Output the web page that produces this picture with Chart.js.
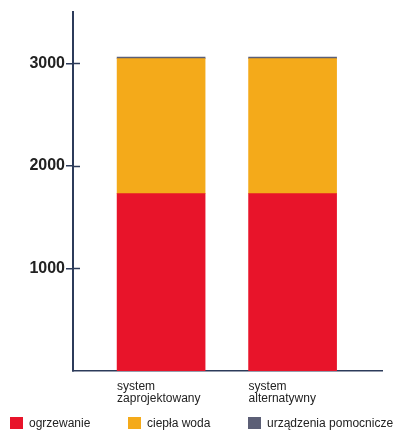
<!DOCTYPE html>
<html>
<head>
<meta charset="utf-8">
<script src="https://cdn.jsdelivr.net/npm/chart.js@4/dist/chart.umd.min.js"></script>
<style>
  html, body { margin: 0; padding: 0; background: #fff; }
  #wrap { position: relative; width: 393px; height: 432px; }
  #c { position: absolute; left: 0; top: 0; }
  #legend { position: absolute; left: 0; top: 416px; width: 393px; height: 16px;
            font-family: "Liberation Sans", Arial, sans-serif; font-size: 12px; color: #222; }
  .item { position: absolute; top: 0; display: flex; align-items: center; white-space: nowrap; }
  .sw { width: 13px; height: 12px; margin-right: 6px; }
</style>
</head>
<body>
<div id="wrap">
  <canvas id="c" width="393" height="432"></canvas>
  <div id="legend"></div>
</div>
<script>
// ---- data ----
const categories = [["system", "zaprojektowany"], ["system", "alternatywny"]];
const seriesNames = ["ogrzewanie", "ciepła woda", "urządzenia pomocnicze"];
const ogrzewanie = [1730, 1730];
const cieplaWoda = [1315, 1315];
const urzadzeniaPomocnicze = [15, 15];
const yTicks = [1000, 2000, 3000];
const seriesColors = ["#e8142a", "#f4aa1a", "#5c5f76"];
const seriesValues = [ogrzewanie, cieplaWoda, urzadzeniaPomocnicze];

const AXIS = "#2c3b5a";

const datasets = seriesNames.map((name, s) => ({
  label: name,
  data: seriesValues[s].map((v, i) => ({ x: i, y: v })),
  backgroundColor: seriesColors[s],
  borderWidth: 0,
  barThickness: 88
}));

const extrasPlugin = {
  id: "extras",
  afterDraw(chart) {
    const ctx = chart.ctx;
    const y = chart.scales.y;
    const area = chart.chartArea;
    // inner part of y ticks
    ctx.save();
    ctx.strokeStyle = AXIS;
    ctx.lineWidth = 1.5;
    yTicks.forEach(t => {
      const py = Math.round(y.getPixelForValue(t)) + 0.5;
      ctx.beginPath();
      ctx.moveTo(area.left, py);
      ctx.lineTo(area.left + 7, py);
      ctx.stroke();
    });
    // category labels, left aligned at bar left edge
    const meta = chart.getDatasetMeta(0);
    ctx.fillStyle = "#222";
    ctx.font = "12px 'Liberation Sans', Arial, sans-serif";
    ctx.textAlign = "left";
    ctx.textBaseline = "alphabetic";
    meta.data.forEach((bar, i) => {
      const left = bar.x - bar.width / 2;
      categories[i].forEach((line, k) => {
        ctx.fillText(line, left, area.bottom + 19 + k * 11.5);
      });
    });
    ctx.restore();
  }
};

new Chart(document.getElementById("c"), {
  type: "bar",
  data: { datasets },
  options: {
    responsive: false,
    animation: false,
    layout: { padding: { top: 12, right: 11, left: 0, bottom: 0 } },
    plugins: { legend: { display: false }, tooltip: { enabled: false } },
    scales: {
      x: {
        type: "linear",
        offset: false,
        stacked: true,
        min: -0.67,
        max: 1.68,
        ticks: { display: false },
        grid: { display: false, offset: false },
        border: { display: true, color: AXIS, width: 1.5 },
        afterFit(s) { s.height = 61; }
      },
      y: {
        stacked: true,
        min: 0,
        max: 3500,
        afterBuildTicks(s) { s.ticks = yTicks.map(v => ({ value: v })); },
        ticks: {
          padding: 1,
          color: "#222",
          font: { family: "'Liberation Sans', Arial, sans-serif", size: 16, weight: "bold" },
          callback: (v) => String(v)
        },
        grid: { drawOnChartArea: false, tickLength: 7, color: AXIS, lineWidth: 1.5 },
        border: { display: true, color: AXIS, width: 2 },
        afterFit(s) { s.width = 73; }
      }
    }
  },
  plugins: [extrasPlugin]
});

// HTML legend built from the series arrays
const legendX = [10, 128, 248];
const lg = document.getElementById("legend");
seriesNames.forEach((name, s) => {
  const it = document.createElement("div");
  it.className = "item";
  it.style.left = legendX[s] + "px";
  const sw = document.createElement("span");
  sw.className = "sw";
  sw.style.background = seriesColors[s];
  const tx = document.createElement("span");
  tx.textContent = name;
  it.appendChild(sw);
  it.appendChild(tx);
  lg.appendChild(it);
});
</script>
</body>
</html>
